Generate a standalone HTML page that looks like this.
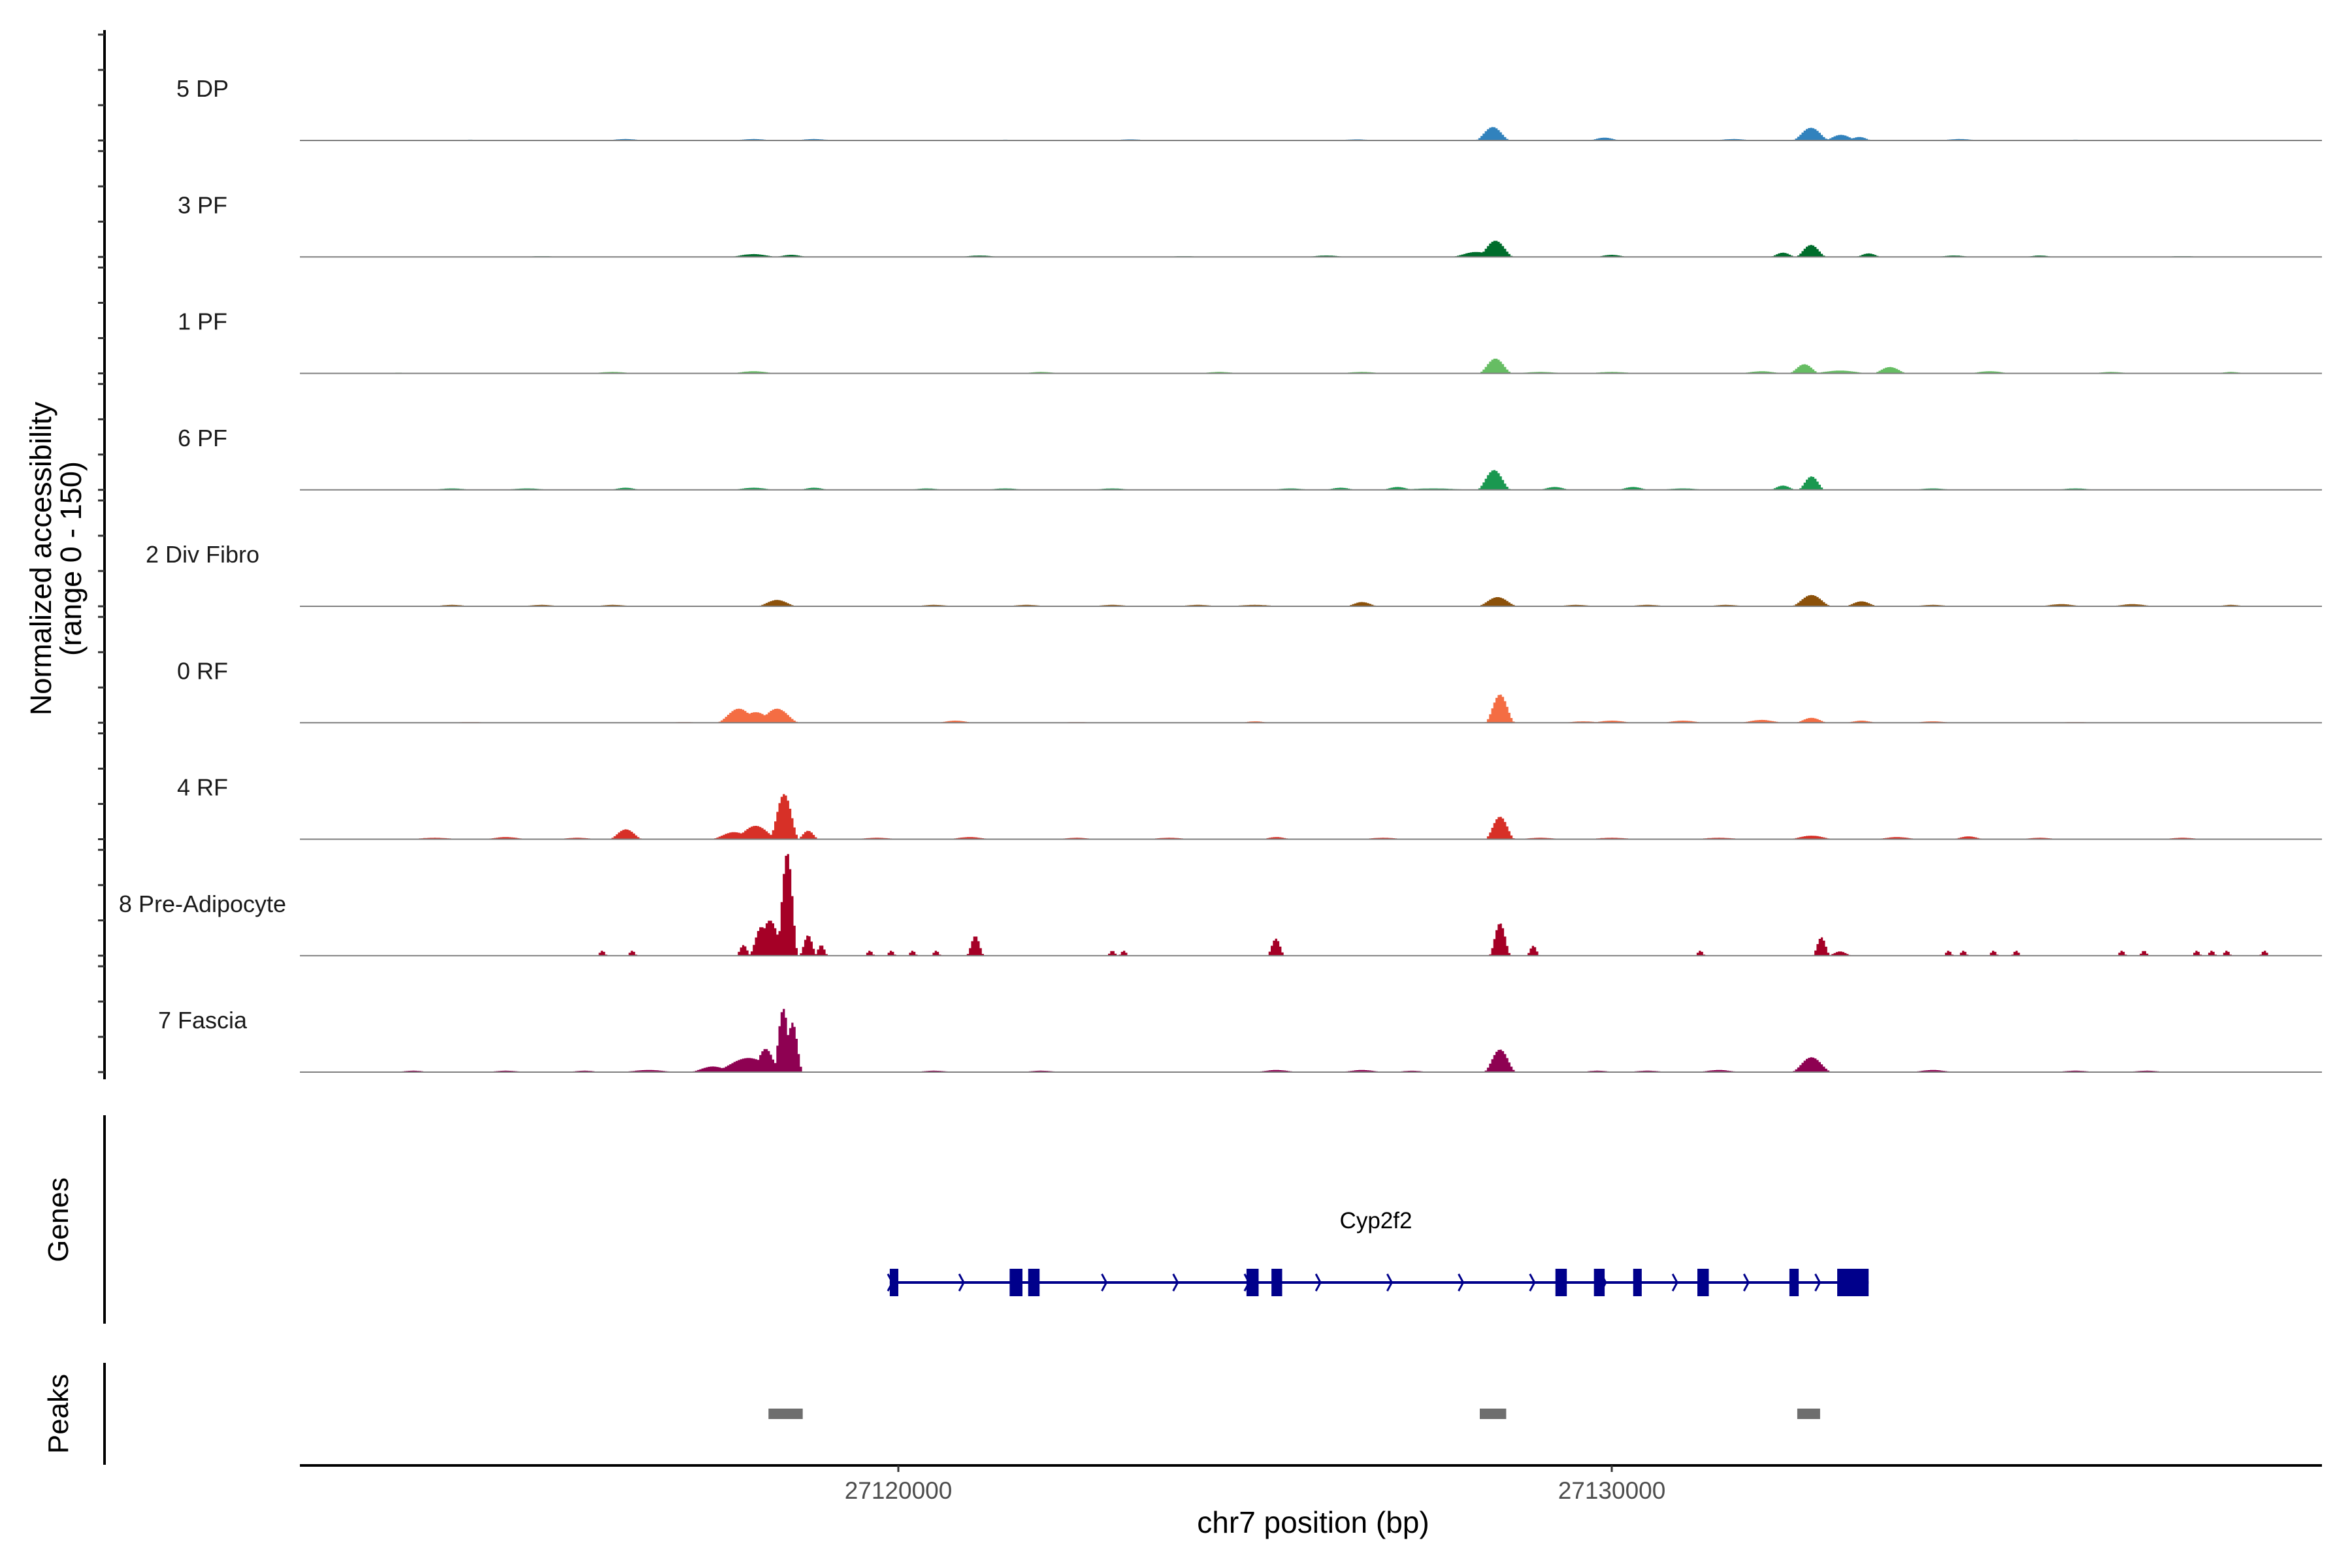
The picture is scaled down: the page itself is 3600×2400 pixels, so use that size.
<!DOCTYPE html>
<html><head><meta charset="utf-8">
<style>
html,body{margin:0;padding:0;background:#fff;}
svg{display:block;font-family:"Liberation Sans",Arial,sans-serif;}
</style></head>
<body>
<svg id="chart" width="3600" height="2400" viewBox="0 0 3600 2400" xmlns="http://www.w3.org/2000/svg">
  <g id="tracks"></g>
  <line x1="160" y1="46" x2="160" y2="1652" stroke="#000" stroke-width="4"/>
  <g id="yticks"></g>
  <text transform="translate(78,855) rotate(-90)" text-anchor="middle" font-size="45" fill="#000">Normalized accessibility</text>
  <text transform="translate(124,855) rotate(-90)" text-anchor="middle" font-size="45" fill="#000">(range 0 - 150)</text>
  <line x1="160" y1="1707" x2="160" y2="2026" stroke="#000" stroke-width="4"/>
  <text transform="translate(104,1867) rotate(-90)" text-anchor="middle" font-size="44" fill="#000">Genes</text>
  <line x1="160" y1="2086" x2="160" y2="2242" stroke="#000" stroke-width="4"/>
  <text transform="translate(104,2164) rotate(-90)" text-anchor="middle" font-size="44" fill="#000">Peaks</text>
  <g id="genes"></g>
  <g id="peaks"></g>
  <line x1="459" y1="2243" x2="3554" y2="2243" stroke="#000" stroke-width="4"/>
  <g id="xticks"></g>
  <text x="2010" y="2346" text-anchor="middle" font-size="46" fill="#000">chr7 position (bp)</text>
</svg>
<script>
// ---- data ----
const trackNames = ["5 DP","3 PF","1 PF","6 PF","2 Div Fibro","0 RF","4 RF","8 Pre-Adipocyte","7 Fascia"];
const trackColors = ["#3182bd","#006d2c","#66bd63","#1a9850","#8c510a","#f46d43","#d73027","#a50026","#8e0152"];
// peak components per track: [position bp, height (0-150), half-width bp]
const peaks5DP = [[27128333,19,260],[27132793,18,280],[27133214,8,260],[27133470,5,200],[27129899,4,250],[27116176,2,350],[27117971,2,350],[27118817,2,350],[27131706,2,350],[27134876,2,350],[27126424,1.5,350],[27123254,1.5,350],[27114000,1,400],[27121500,1,400],[27136500,1,400]];
const peaks3PF = [[27128370,23,270],[27128100,7,380],[27132793,17,230],[27132400,6,200],[27133600,5,200],[27117971,4,380],[27118500,3,260],[27126000,2,350],[27130000,3,260],[27121141,2,350],[27136000,2,250],[27115000,1,400],[27124000,1,400],[27134800,2,300],[27138000,1,400]];
const peaks1PF = [[27128370,21,250],[27132700,13,230],[27133900,9,260],[27133200,4,450],[27132100,3,350],[27117971,3,380],[27130000,2,450],[27135300,3,350],[27137000,2,350],[27138679,2,250],[27122000,2,350],[27124500,2,350],[27116000,2,400],[27113000,1,400],[27126500,2,400],[27129000,2,450]];
const peaks6PF = [[27128350,28,250],[27132800,19,200],[27132400,6,200],[27127000,4,250],[27127500,2,650],[27129200,4,250],[27130300,4,250],[27126200,3,250],[27116176,3,250],[27117971,3,350],[27118817,3,250],[27113745,2,350],[27121500,2,350],[27123000,2,350],[27125500,2,350],[27134500,2,350],[27136500,2,350],[27114800,2,400],[27120400,2,300],[27131000,2,400]];
const peaks2Div = [[27128400,13,300],[27132800,16,300],[27133500,7,250],[27118300,9,300],[27126500,6,250],[27116000,2,350],[27113745,2,350],[27120500,2,350],[27123000,2,350],[27125000,2,450],[27130500,2,350],[27134500,2,350],[27136300,3,350],[27137300,3,350],[27138679,2,250],[27115000,2,350],[27121800,2,350],[27124200,2,350],[27129500,2,350],[27131600,2,350]];
const peaks0RF = [[27128434,40,220],[27117766,20,330],[27118300,20,330],[27118000,15,350],[27120800,3,300],[27132800,7,250],[27132100,4,350],[27131000,3,350],[27130000,3,350],[27129600,2,350],[27133500,3,250],[27134500,2,350],[27125000,2,250],[27117000,1,350],[27114000,1,400],[27122500,1,400],[27136500,1,400]];
const peaks4RF = [[27118400,64,220],[27118000,19,350],[27117700,10,350],[27118736,12,160],[27116182,14,250],[27128434,32,220],[27132800,5,350],[27113500,2,450],[27114500,3,350],[27115500,2,350],[27121000,3,350],[27122500,2,350],[27125300,3,250],[27130000,2,450],[27131500,2,450],[27134000,3,350],[27135000,4,250],[27136000,2,350],[27138000,2,350],[27119700,2,400],[27123800,2,400],[27126800,2,400],[27129000,2,400]];
const peaks8Pre = [[27118443,146,160],[27118200,50,240],[27118080,41,180],[27117830,15,110],[27118736,29,130],[27118920,15,100],[27121080,28,130],[27125293,24,130],[27128434,46,160],[27128900,14,100],[27132939,26,130],[27133200,6,180],
 [27115850,7,80],[27116270,7,80],[27119600,7,80],[27119900,7,80],[27120200,7,80],[27120530,7,80],[27123000,7,80],[27123160,7,80],[27131240,7,80],[27134720,7,80],[27134930,7,80],[27135350,7,80],[27135670,7,80],[27137150,7,80],[27137460,7,80],[27138200,7,80],[27138410,7,80],[27138620,7,80],[27139150,7,80]];
const peaks7Fas = [[27118388,90,150],[27118517,70,150],[27118141,33,220],[27117900,20,550],[27117400,8,350],[27128434,32,240],[27132800,21,300],[27125300,3,350],[27114500,2,350],[27116500,3,450],[27120500,2,350],[27122000,2,350],[27126500,3,350],[27130500,2,350],[27131500,3,350],[27134500,3,350],[27136500,2,350],[27137500,2,350],[27113200,2,300],[27115600,2,300],[27127200,2,300],[27129800,2,300]];
const trackPeaks = [peaks5DP,peaks3PF,peaks1PF,peaks6PF,peaks2Div,peaks0RF,peaks4RF,peaks8Pre,peaks7Fas];
const exonStarts = [27119880,27121560,27121820,27124880,27125230,27129210,27129750,27130300,27131200,27132490,27133160];
const exonEnds   = [27120000,27121740,27121980,27125050,27125380,27129370,27129900,27130420,27131360,27132620,27133600];
const geneStart = 27119880, geneEnd = 27133600;
const peakRegions = [[27118180,27118660],[27128150,27128520],[27132600,27132920]];
const xTickValues = [27120000,27130000];
const xTickLabels = ["27120000","27130000"];
const yMax = 150;

// ---- scales ----
const NS="http://www.w3.org/2000/svg";
const x0bp=27111600, x1bp=27139900, px0=459, px1=3554;
function xs(bp){return 1375+(bp-27120000)*0.1092;}
const panelH=162;
function baseY(i){return 215+i*178.25;}
function ys(i,v){return baseY(i)-v/yMax*panelH;}
function mk(tag,attrs,parent){const e=document.createElementNS(NS,tag);for(const k in attrs)e.setAttribute(k,attrs[k]);parent.appendChild(e);return e;}

const tracksG=document.getElementById('tracks');
const ytG=document.getElementById('yticks');
const bin=30;
trackNames.forEach((name,i)=>{
  const g=mk('g',{},tracksG);
  
  
  let d='M'+px0+','+baseY(i);
  for(let b=x0bp;b<x1bp;b+=bin){
    let v=0;
    for(const p of trackPeaks[i]){const dd=Math.abs(b+bin/2-p[0]);if(dd<p[2]){const h=p[1]*0.5*(1+Math.cos(Math.PI*dd/p[2]));if(h>v)v=h;}}
    const y=ys(i,v);
    d+='L'+Math.max(px0,xs(b)).toFixed(1)+','+y.toFixed(1)+'L'+Math.min(px1,xs(b+bin)).toFixed(1)+','+y.toFixed(1);
  }
  d+='L'+px1+','+baseY(i)+'Z';
  const path=mk('path',{d:d,fill:trackColors[i],stroke:'none'},g);
  
  
  const bl=mk('line',{x1:px0,x2:px1,y1:baseY(i),y2:baseY(i),stroke:'#7f7f7f','stroke-width':2},g);
  
  
  const t=mk('text',{x:310,y:baseY(i)-67,'text-anchor':'middle','font-size':36,fill:'#1a1a1a'},g);
  t.textContent=name;
  
  
  for(let k=0;k<=3;k++){
    const y=ys(i,k*50);
    const tk=mk('line',{x1:150,x2:160,y1:y,y2:y,stroke:'#333','stroke-width':3},ytG);
    
    
  }
});

// genes
const gG=document.getElementById('genes');
const gy=1963;
const gl=mk('line',{x1:xs(geneStart),x2:xs(geneEnd),y1:gy,y2:gy,stroke:'#00008b','stroke-width':4},gG);


for(let b=geneStart;b<geneEnd;b+=1000){
  const x=xs(b);
  const ar=mk('path',{d:`M${x-3},${gy-13}L${x+4},${gy}L${x-3},${gy+13}`,fill:'none',stroke:'#00008b','stroke-width':3},gG);
  
  
}
exonStarts.forEach((s,k)=>{
  const r=mk('rect',{x:xs(s),y:gy-21,width:Math.max(6,xs(exonEnds[k])-xs(s)),height:42,fill:'#00008b'},gG);
  
  
});
const gt=mk('text',{x:xs((geneStart+geneEnd)/2)-5,y:1880,'text-anchor':'middle','font-size':35,fill:'#000'},gG);
gt.textContent='Cyp2f2';



// peaks
const pG=document.getElementById('peaks');
peakRegions.forEach(p=>{
  const r=mk('rect',{x:xs(p[0]),y:2156,width:xs(p[1])-xs(p[0]),height:16,fill:'#6e6e6e'},pG);
  
  
});

// x ticks
const xG=document.getElementById('xticks');
xTickValues.forEach((v,k)=>{
  const x=xs(v);
  const l=mk('line',{x1:x,x2:x,y1:2243,y2:2253,stroke:'#333','stroke-width':3},xG);
  
  
  const t=mk('text',{x:x,y:2294,'text-anchor':'middle','font-size':37,fill:'#4d4d4d'},xG);
  t.textContent=xTickLabels[k];
  
  
});
</script>
</body></html>
